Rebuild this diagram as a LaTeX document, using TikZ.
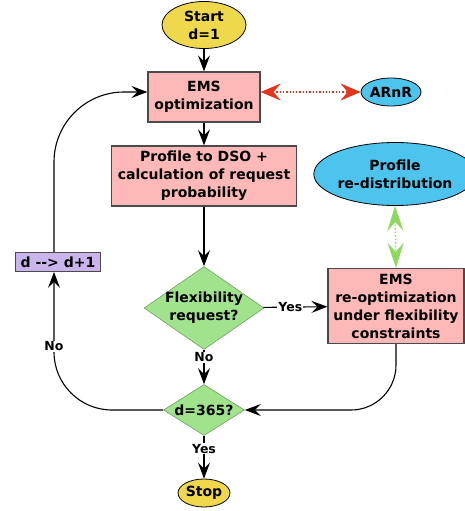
\documentclass[tikz,border=0pt]{standalone}
\usepackage{fontspec}
\setmainfont{DejaVu Sans}
\usetikzlibrary{arrows.meta,shapes.geometric}
\definecolor{StartYellow}{HTML}{EFD84B}
\definecolor{StepPink}{HTML}{FFB8B8}
\definecolor{AgentBlue}{HTML}{4CC4EE}
\definecolor{DecideGreen}{HTML}{A0E38C}
\definecolor{CountPurple}{HTML}{C9B4EC}
\definecolor{AlertRed}{HTML}{E3341E}
\definecolor{LinkGreen}{HTML}{8ED85E}
\definecolor{EdgeGray}{HTML}{4A4A4A}

\begin{document}
\begin{tikzpicture}[
        x=1pt,y=-1pt,
        font=\fontsize{14}{18}\selectfont\bfseries,
        box/.style={draw=EdgeGray,line width=1.2pt,fill=StepPink,align=center,inner sep=0pt},
        term/.style={ellipse,draw=black,line width=0.8pt,fill=StartYellow,inner sep=0pt,align=center},
        agent/.style={term,fill=AgentBlue},
        decision/.style={diamond,draw=DecideGreen!70!black,line width=0.6pt,fill=DecideGreen,inner sep=0pt},
        arrow/.style={-{Stealth[length=16pt,width=12pt,inset=6pt]},line width=1.1pt},
        elabel/.style={fill=white,inner sep=1pt,font=\fontsize{12.5}{14}\selectfont\bfseries},
        redlink/.style={{Stealth[length=20pt,width=17pt,inset=7pt]}-{Stealth[length=20pt,width=17pt,inset=7pt]},
          dotted,line width=1.3pt,color=AlertRed},
        greenlink/.style={{Stealth[length=25pt,width=16pt,inset=9pt]}-{Stealth[length=25pt,width=16pt,inset=9pt]},
          dotted,line width=1.5pt,color=LinkGreen}
      ]
        \useasboundingbox (0,0) rectangle (465,511);
        % main column
        \node[term,minimum width=84pt,minimum height=47pt] (start) at (204,25) {Start\\d=1};
        \node[box,minimum width=112pt,minimum height=50pt] (ems) at (204,97) {EMS\\optimization};
        \node[box,minimum width=185pt,minimum height=60pt] (dso) at (204,176)
          {Profile to DSO +\\calculation of request\\probability};
        \node[decision,minimum width=120pt,minimum height=83pt,
          label={[align=center]center:Flexibility\\request?}] (flex) at (204,308) {};
        \node[decision,minimum width=81pt,minimum height=51pt,
          label=center:{d=365?}] (last) at (204,410) {};
        \node[term,minimum width=52pt,minimum height=28pt] (stop) at (204,493) {Stop};
        % side nodes
        \node[agent,minimum width=60pt,minimum height=28pt] (arnr) at (391,92) {ARnR};
        \node[agent,minimum width=135pt,minimum height=63pt] (redist) at (395,174)
          {Profile\\re-distribution};
        \node[box,minimum width=136pt,minimum height=75pt] (reopt) at (396,306)
          {EMS\\re-optimization\\under flexibility\\constraints};
        \node[box,fill=CountPurple,line width=0.9pt,minimum width=85pt,minimum height=19pt]
          (incr) at (58,262) {d -{}-{}> d+1};

        \draw[arrow] (start) -- (ems);
        \draw[arrow] (ems) -- (dso);
        \draw[arrow] (dso) -- (flex);
        \draw[arrow] (flex) -- node[elabel,pos=0.42] {Yes} (reopt);
        \draw[arrow] (flex) -- node[elabel,pos=0.22] {No} (last);
        \draw[arrow] (last) -- node[elabel,pos=0.3] {Yes} (stop);
        \draw[arrow,rounded corners=45pt] (reopt.south) |- (last.east);
        \draw[arrow,rounded corners=58pt] (last.west) -| ([xshift=-4pt]incr.south);
        \path (last.west) -| node[elabel,pos=0.73] {No} ([xshift=-4pt]incr.south);
        \draw[arrow,rounded corners=70pt] ([xshift=-4pt]incr.north) |- ([yshift=5pt]ems.west);
        \draw[redlink] ([yshift=5pt]ems.east) -- (arnr.west);
        \draw[greenlink] (redist.south) -- (reopt.north);
      \end{tikzpicture}
\end{document}
